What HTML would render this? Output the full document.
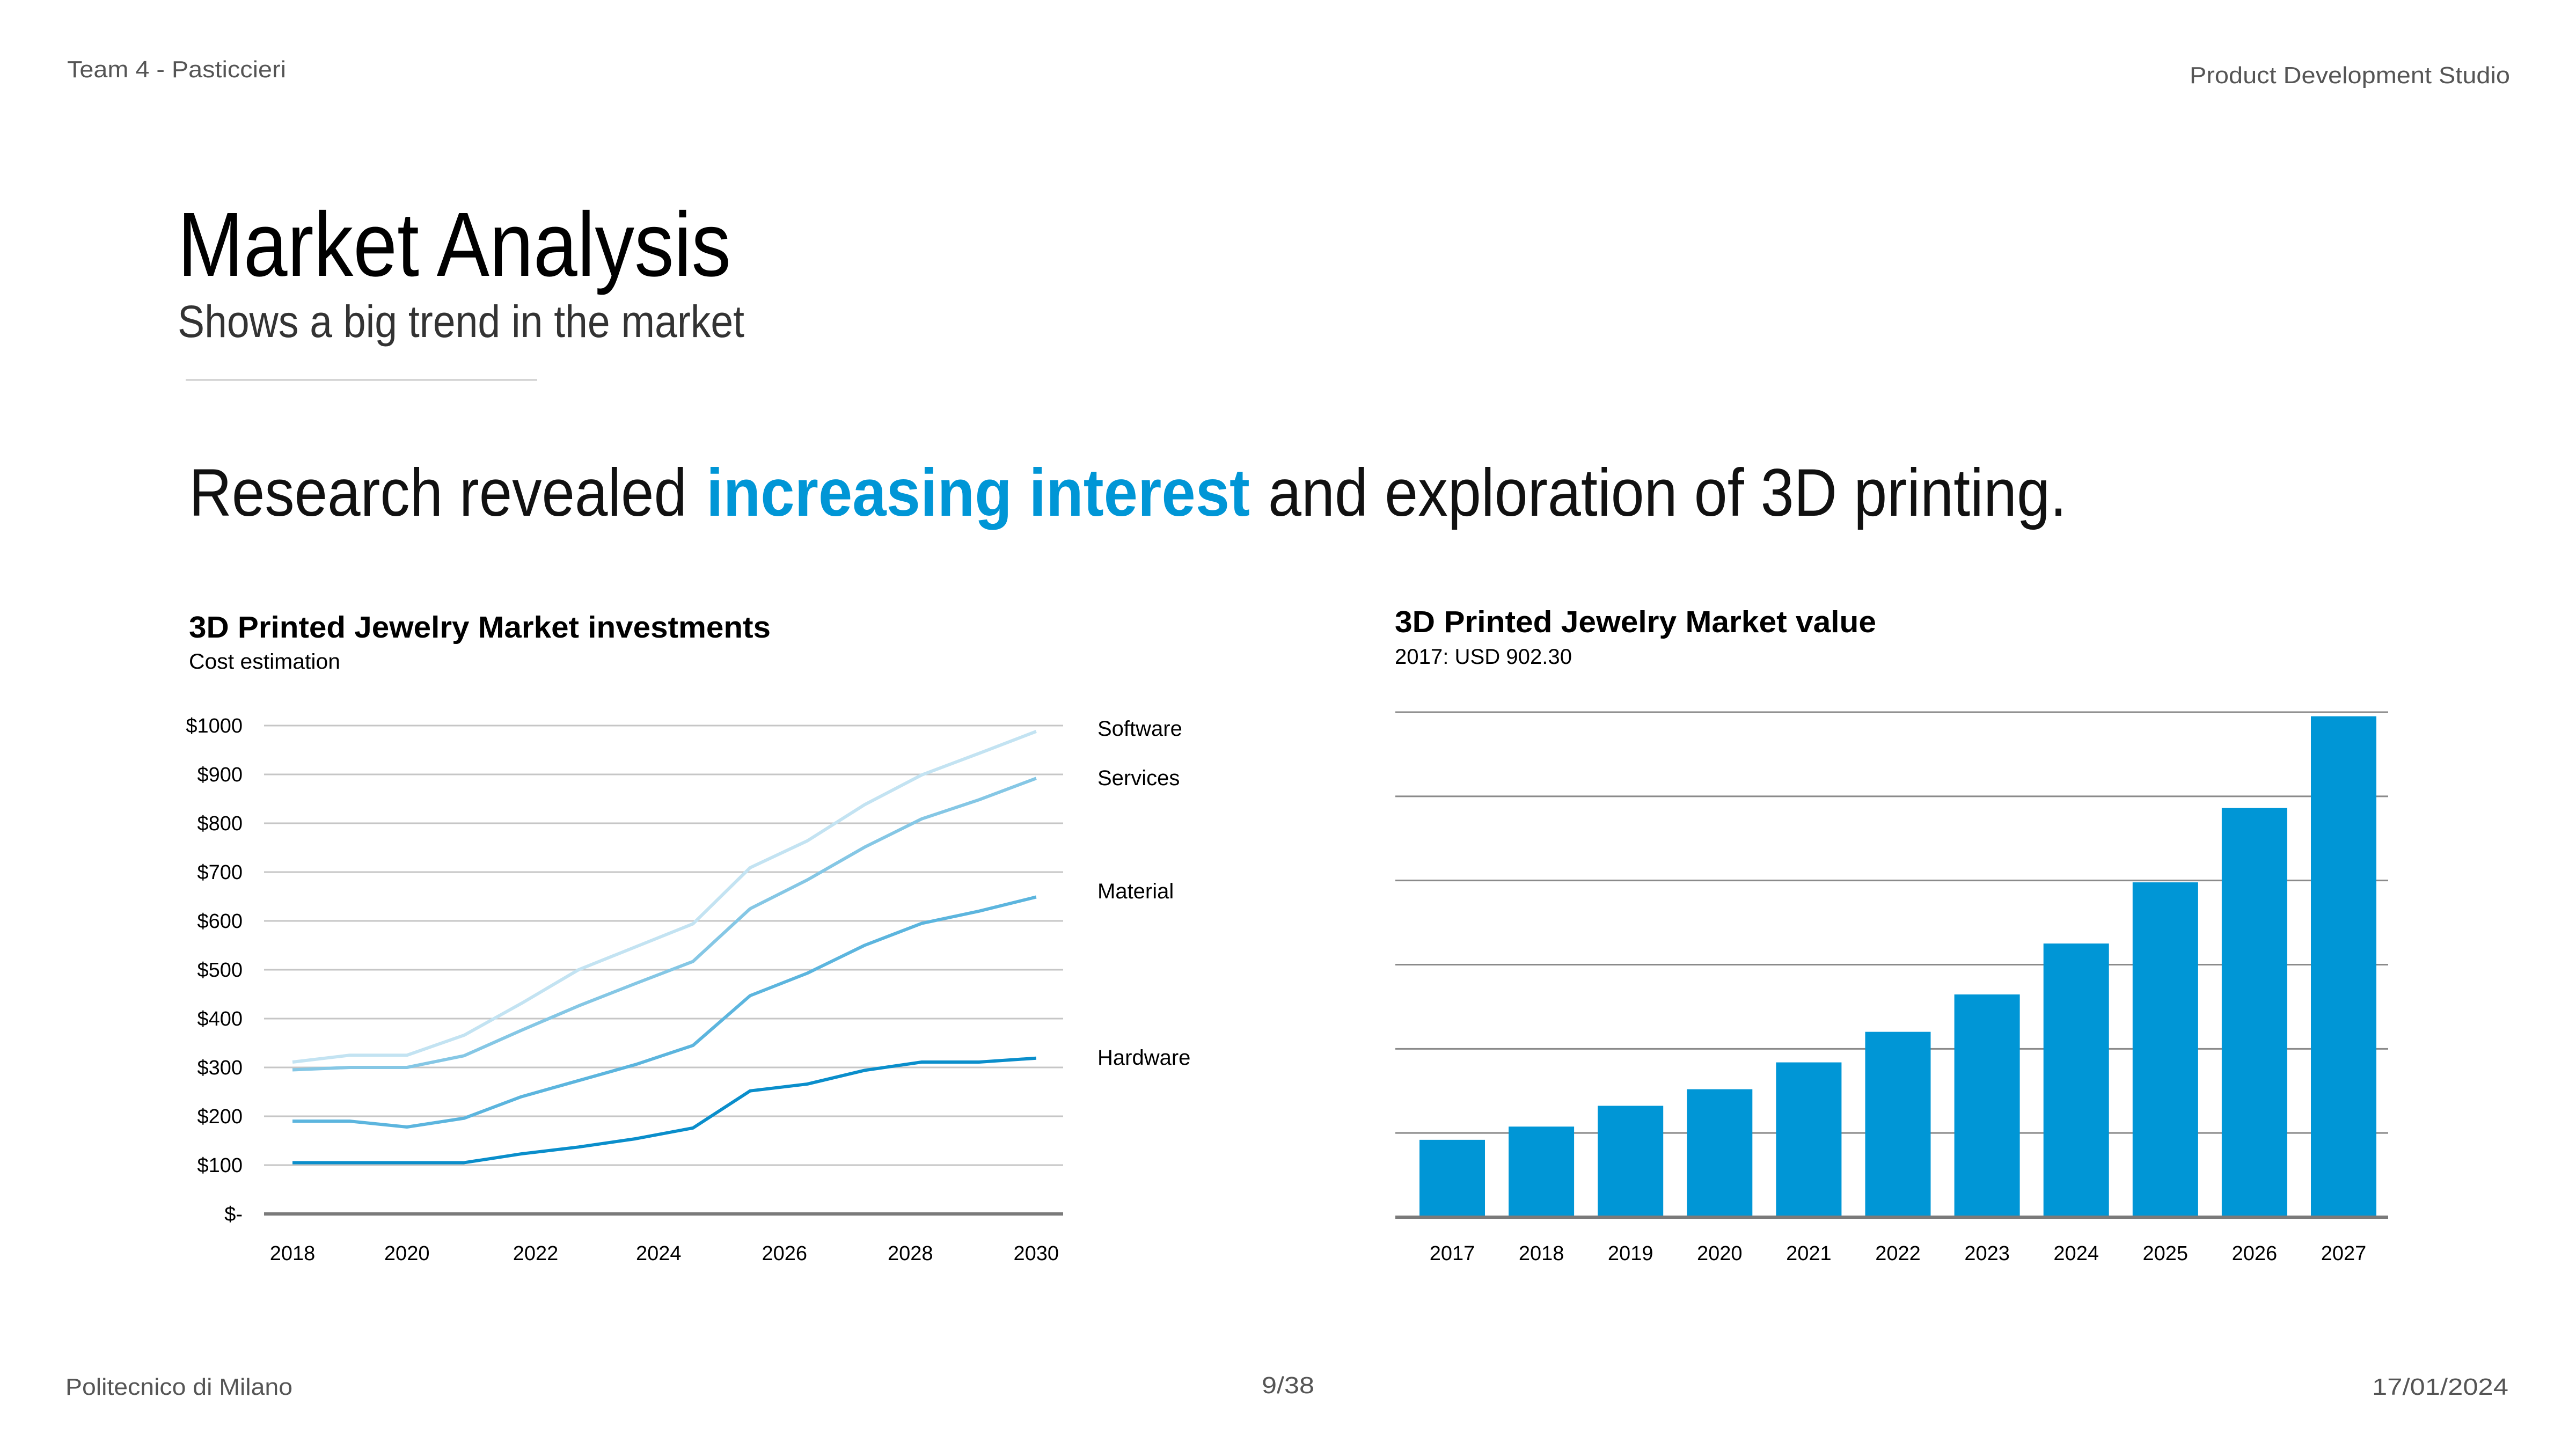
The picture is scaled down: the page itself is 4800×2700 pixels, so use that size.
<!DOCTYPE html>
<html><head><meta charset="utf-8"><style>
html,body{margin:0;padding:0;background:#fff;}
svg{display:block;font-family:"Liberation Sans",Arial,sans-serif;}
</style></head><body>
<svg id="page" width="4800" height="2700" viewBox="0 0 4800 2700" xmlns="http://www.w3.org/2000/svg">
<rect width="4800" height="2700" fill="#fff"/>
<text x="125" y="144" font-size="44" fill="#555" textLength="408" lengthAdjust="spacingAndGlyphs">Team 4 - Pasticcieri</text>
<text x="4080" y="155" font-size="44" fill="#555" textLength="597" lengthAdjust="spacingAndGlyphs">Product Development Studio</text>
<text x="331" y="514" font-size="170" fill="#000" textLength="1031" lengthAdjust="spacingAndGlyphs">Market Analysis</text>
<text x="331" y="628" font-size="84" fill="#333" textLength="1056" lengthAdjust="spacingAndGlyphs">Shows a big trend in the market</text>
<line x1="346" y1="708" x2="1001" y2="708" stroke="#ccc" stroke-width="3"/>
<text font-size="125" fill="#111">
<tspan x="352" y="961" textLength="928" lengthAdjust="spacingAndGlyphs">Research revealed</tspan><tspan x="1316" y="961" font-weight="bold" fill="#0096d6" textLength="1013" lengthAdjust="spacingAndGlyphs">increasing interest</tspan><tspan x="2363" y="961" textLength="1488" lengthAdjust="spacingAndGlyphs">and exploration of 3D printing.</tspan></text>
<text x="352" y="1188" font-size="57" font-weight="bold" fill="#000" textLength="1084" lengthAdjust="spacingAndGlyphs">3D Printed Jewelry Market investments</text>
<text x="352" y="1246" font-size="40" fill="#000" textLength="282" lengthAdjust="spacingAndGlyphs">Cost estimation</text>
<text x="2599" y="1178" font-size="57" font-weight="bold" fill="#000" textLength="897" lengthAdjust="spacingAndGlyphs">3D Printed Jewelry Market value</text>
<text x="2599" y="1237" font-size="40" fill="#000" textLength="330" lengthAdjust="spacingAndGlyphs">2017: USD 902.30</text>
<g id="line-chart"></g>
<g id="bar-chart"></g>
<text x="122" y="2599" font-size="44" fill="#555" textLength="423" lengthAdjust="spacingAndGlyphs">Politecnico di Milano</text>
<text x="2351" y="2596" font-size="44" fill="#555" textLength="98" lengthAdjust="spacingAndGlyphs">9/38</text>
<text x="4420" y="2599" font-size="44" fill="#555" textLength="254" lengthAdjust="spacingAndGlyphs">17/01/2024</text>
</svg>
<script>
// ---- line chart data ----
const lineYTicks = [0,100,200,300,400,500,600,700,800,900,1000];
const lineYTickLabels = ["$-","$100","$200","$300","$400","$500","$600","$700","$800","$900","$1000"];
const xTickLabels = ["2018","2020","2022","2024","2026","2028","2030"];
const xTickIndex = [0,2,4.25,6.4,8.6,10.8,13];
const hardware = [105,105,105,105,123,137,154,176,252,266,294,311,311,319];
const material = [190,190,178,196,240,273,306,345,447,493,550,595,620,649];
const services = [295,300,300,324,376,426,472,517,625,684,751,809,848,892];
const software = [311,325,325,366,431,500,547,594,709,764,838,899,943,988];
const seriesNames = ["Software","Services","Material","Hardware"];
// ---- bar chart data ----
const barYears = ["2017","2018","2019","2020","2021","2022","2023","2024","2025","2026","2027"];
const barValues = [919,1076,1323,1520,1839,2202,2646,3251,3978,4861,5951];
const barGridTicks = [0,1000,2000,3000,4000,5000,6000];

const NS="http://www.w3.org/2000/svg";
function mk(parent,tag,attrs,text){const e=document.createElementNS(NS,tag);for(const k in attrs)e.setAttribute(k,attrs[k]);if(text!==undefined)e.textContent=text;parent.appendChild(e);return e;}

// line chart
const lc=document.getElementById('line-chart');
const ly=v=>2262-(v/1000)*(2262-1352);
const lx=i=>545+i*106.6;
lineYTicks.forEach((t,k)=>{
  const g=mk(lc,'line',{x1:492,x2:1981,y1:ly(t),y2:ly(t),stroke:t===0?'#7a7a7a':'#c6c6c6','stroke-width':t===0?6:3});
  
  
  const tx=mk(lc,'text',{x:452,y:ly(t)+13,'font-size':38,'text-anchor':'end',fill:'#000'},lineYTickLabels[k]);
  
  
});
xTickLabels.forEach((l,k)=>{
  const tx=mk(lc,'text',{x:lx(xTickIndex[k]),y:2348,'font-size':38,'text-anchor':'middle',fill:'#000'},l);
  
  
});
const seriesData=[software,services,material,hardware];
const seriesColors=['#c3e3f2','#85c7e5','#5cb5de','#0a8ecb'];
const legendY=[1371,1463,1674,1984];
seriesData.forEach((s,k)=>{
  const p=mk(lc,'polyline',{points:s.map((v,i)=>lx(i)+','+ly(v)).join(' '),fill:'none',stroke:seriesColors[k],'stroke-width':6,'stroke-linejoin':'round'});
  
  
  const t=mk(lc,'text',{x:2045,y:legendY[k],'font-size':40,fill:'#000'},seriesNames[k]);
  
  
});

// bar chart
const bc=document.getElementById('bar-chart');
const by=v=>2268-(v/6000)*(2268-1327);
barGridTicks.forEach(t=>{
  if(t===0)return;
  const g=mk(bc,'line',{x1:2600,x2:4450,y1:by(t),y2:by(t),stroke:'#8a8a8a','stroke-width':3});
  
  
});
barValues.forEach((v,i)=>{
  const cx=2706+i*166.1;
  const r=mk(bc,'rect',{x:cx-61,y:by(v),width:122,height:2268-by(v),fill:'#0096d6'});
  
  
  const t=mk(bc,'text',{x:cx,y:2348,'font-size':38,'text-anchor':'middle',fill:'#000'},barYears[i]);
  
  
});
const base=mk(bc,'line',{x1:2600,x2:4450,y1:2268,y2:2268,stroke:'#7a7a7a','stroke-width':6});


</script>
</body></html>
